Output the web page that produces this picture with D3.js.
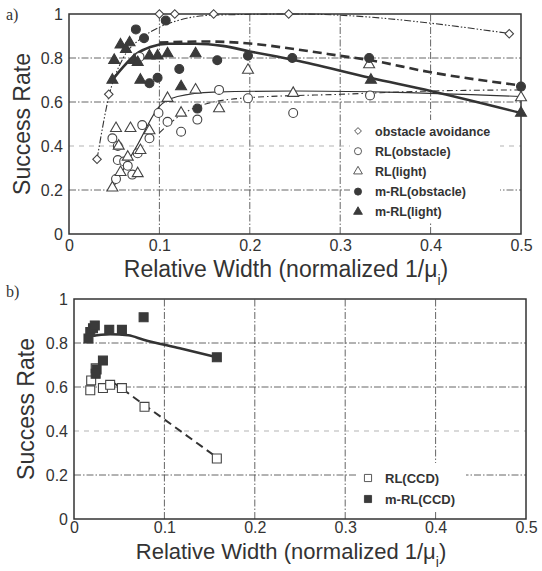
<!DOCTYPE html>
<html><head><meta charset="utf-8">
<script src="https://cdn.jsdelivr.net/npm/d3@7"></script>
<style>body{margin:0;background:#fff}svg{display:block}</style>
</head><body>
<svg id="c" width="542" height="571"></svg>
<script>
// ---------- data (panel a) ----------
const xTicks = [0, 0.1, 0.2, 0.3, 0.4, 0.5];
const yTicks = [0, 0.2, 0.4, 0.6, 0.8, 1];
const obstacleAvoidance = [[0.031,0.34],[0.044,0.635],[0.1,1.0],[0.117,1.0],[0.16,1.0],[0.243,1.0],[0.487,0.91]];
const rlObstacle = [[0.048,0.435],[0.054,0.40],[0.054,0.336],[0.061,0.33],[0.065,0.31],[0.07,0.27],[0.052,0.25],[0.076,0.367],[0.081,0.495],[0.089,0.435],[0.099,0.55],[0.109,0.51],[0.124,0.465],[0.142,0.52],[0.166,0.655],[0.198,0.617],[0.248,0.55],[0.333,0.63],[0.078,0.805]];
const rlLight = [[0.048,0.21],[0.052,0.48],[0.068,0.48],[0.089,0.47],[0.055,0.40],[0.079,0.38],[0.057,0.28],[0.076,0.275],[0.065,0.35],[0.109,0.617],[0.124,0.55],[0.14,0.655],[0.166,0.57],[0.198,0.745],[0.248,0.64],[0.332,0.77],[0.5,0.62]];
const mrlObstacle = [[0.074,0.93],[0.083,0.89],[0.107,0.97],[0.098,0.71],[0.089,0.685],[0.122,0.75],[0.142,0.57],[0.164,0.79],[0.198,0.81],[0.247,0.80],[0.332,0.80],[0.5,0.67]];
const mrlLight = [[0.048,0.70],[0.05,0.79],[0.057,0.86],[0.063,0.84],[0.067,0.87],[0.072,0.79],[0.076,0.78],[0.079,0.70],[0.089,0.81],[0.098,0.81],[0.109,0.82],[0.14,0.82],[0.124,0.67],[0.334,0.70],[0.5,0.55]];
const fitAvoid = [[0.031,0.34],[0.045,0.64],[0.06,0.80],[0.08,0.89],[0.1,0.94],[0.12,0.97],[0.16,0.995],[0.25,1.0],[0.49,0.91]];
const fitRlObstacle = [[0.1,0.46],[0.12,0.53],[0.15,0.59],[0.2,0.62],[0.3,0.635],[0.4,0.65],[0.5,0.655]];
const fitRlLight = [[0.05,0.22],[0.075,0.40],[0.1,0.58],[0.12,0.625],[0.16,0.645],[0.25,0.65],[0.35,0.645],[0.5,0.625]];
const fitMrlObstacle = [[0.1,0.87],[0.15,0.875],[0.2,0.866],[0.25,0.84],[0.3,0.81],[0.333,0.79],[0.4,0.735],[0.5,0.675]];
const fitMrlLight = [[0.048,0.70],[0.06,0.76],[0.075,0.82],[0.09,0.85],[0.11,0.865],[0.14,0.865],[0.17,0.855],[0.2,0.83],[0.25,0.79],[0.333,0.71],[0.4,0.65],[0.5,0.55]];
const legendA = ["obstacle avoidance","RL(obstacle)","RL(light)","m-RL(obstacle)","m-RL(light)"];
// ---------- data (panel b) ----------
const rlCCD = [[0.018,0.585],[0.019,0.63],[0.024,0.685],[0.032,0.595],[0.04,0.61],[0.053,0.595],[0.078,0.51],[0.158,0.275]];
const mrlCCD = [[0.016,0.82],[0.018,0.85],[0.021,0.867],[0.023,0.88],[0.039,0.86],[0.053,0.86],[0.077,0.917],[0.158,0.735],[0.032,0.72],[0.025,0.68],[0.024,0.66]];
const fitMrlCCD = [[0.016,0.83],[0.04,0.84],[0.06,0.835],[0.077,0.815],[0.117,0.776],[0.158,0.735]];
const fitRlCCD = [[0.042,0.625],[0.158,0.28]];
const legendB = ["RL(CCD)","m-RL(CCD)"];

const INK = "#333";
const svg = d3.select("#c");
const fmt = d => (d === 0 || d === 1) ? String(d) : d.toFixed(1);

function panel(o) {
  const x = d3.scaleLinear().domain([0, 0.5]).range([o.x0, o.x1]);
  const y = d3.scaleLinear().domain([0, 1]).range([o.y1, o.y0]);
  const g = svg.append("g");
  const gridStyle = s => s.attr("stroke", "#555").attr("stroke-width", 0.9).attr("stroke-dasharray", "7,2,1.5,2");
  g.selectAll(".vg").data(xTicks.slice(1, -1)).join("line")
    .attr("x1", d => x(d)).attr("x2", d => x(d)).attr("y1", y(0)).attr("y2", y(1)).call(gridStyle);
  g.selectAll(".hg").data(yTicks.slice(1, -1)).join("line")
    .attr("y1", d => y(d)).attr("y2", d => y(d)).attr("x1", x(0)).attr("x2", x(0.5)).call(gridStyle)
    .attr("stroke", d => d === 0.4 ? "#aaa" : "#555")
    .attr("stroke-dasharray", d => d === 0.4 ? "5,5" : "7,2,1.5,2");
  g.append("rect").attr("x", o.leg.x).attr("y", o.leg.y).attr("width", o.leg.w).attr("height", o.leg.h).attr("fill", "#fff");
  g.append("rect").attr("x", x(0)).attr("y", y(1)).attr("width", x(0.5) - x(0)).attr("height", y(0) - y(1))
    .attr("fill", "none").attr("stroke", INK).attr("stroke-width", 1.5);
  const ax = g.append("g").attr("transform", `translate(0,${y(0)})`)
    .call(d3.axisBottom(x).tickValues(xTicks).tickFormat(fmt).tickSize(0).tickPadding(o.xPad));
  const ay = g.append("g").attr("transform", `translate(${x(0)},0)`)
    .call(d3.axisLeft(y).tickValues(yTicks).tickFormat(fmt).tickSize(0).tickPadding(6));
  [ax, ay].forEach(a => {
    a.select(".domain").remove();
    a.selectAll("text").attr("font-family", "Liberation Sans, Arial, sans-serif").attr("font-size", 16).attr("fill", INK);
  });
  g.append("text").attr("transform", `translate(${o.yTitleX},${(y(0) + y(1)) / 2}) rotate(-90)`)
    .attr("text-anchor", "middle").attr("font-family", "Liberation Sans, Arial, sans-serif").attr("font-size", 23).attr("fill", INK)
    .text("Success Rate");
  const t = g.append("text").attr("x", o.xTitleX).attr("y", o.xTitleY).attr("text-anchor", "middle")
    .attr("font-family", "Liberation Sans, Arial, sans-serif").attr("font-size", o.xTitleSize).attr("fill", INK);
  t.append("tspan").text("Relative Width (normalized 1/μ");
  t.append("tspan").attr("dy", 8).attr("font-size", 14).text("i");
  t.append("tspan").attr("dy", -8).text(")");
  svg.append("text").attr("x", 6).attr("y", o.tagY).attr("font-family", "Liberation Serif, serif").attr("font-size", 16).attr("fill", INK).text(o.tag);
  return {g, x, y};
}

function curve(p, data, style) {
  p.g.append("path").datum(data)
    .attr("d", d3.line().x(d => p.x(d[0])).y(d => p.y(d[1])).curve(d3.curveMonotoneX))
    .attr("fill", "none").attr("stroke", INK).attr("stroke-width", style.w).attr("stroke-dasharray", style.dash || null);
}

const sym = {
  diamond: d3.symbol().type(d3.symbolSquare).size(36),
  circle: d3.symbol().type(d3.symbolCircle).size(62),
  triangle: d3.symbol().type(d3.symbolTriangle).size(52),
  square: d3.symbol().type(d3.symbolSquare).size(80)
};
function marks(p, data, kind, filled) {
  p.g.selectAll(null).data(data).join("path")
    .attr("d", sym[kind]())
    .attr("transform", d => `translate(${p.x(d[0])},${p.y(d[1])})` + (kind === "diamond" ? " rotate(45)" : ""))
    .attr("fill", filled ? "#3a3a3a" : "#fff").attr("stroke", filled ? "#3a3a3a" : "#444").attr("stroke-width", 1.1);
}
function legend(p, items, x0, y0, step, size) {
  items.forEach((it, i) => {
    const yy = y0 + i * step;
    p.g.append("path").attr("d", sym[it.kind]())
      .attr("transform", `translate(${x0},${yy})` + (it.kind === "diamond" ? " rotate(45)" : "") + " scale(0.8)")
      .attr("fill", it.filled ? "#3a3a3a" : "#fff").attr("stroke", it.filled ? "#3a3a3a" : "#444").attr("stroke-width", 1.1);
    p.g.append("text").attr("x", x0 + 17).attr("y", yy + 4.5).attr("font-family", "Liberation Sans, Arial, sans-serif")
      .attr("font-weight", "bold").attr("font-size", size).attr("fill", INK).text(it.label);
  });
}

// ---------- panel a ----------
const pa = panel({x0: 69, x1: 521, y0: 14, y1: 234, yTitleX: 30, xTitleX: 286, xTitleY: 277, xTitleSize: 23, xPad: 6,
  tag: "a)", tagY: 20, leg: {x: 350, y: 120, w: 150, h: 103}});
curve(pa, fitAvoid, {w: 1.1, dash: "7,2,1.5,2,1.5,2"});
curve(pa, fitRlObstacle, {w: 1.1, dash: "6,3,1.5,3"});
curve(pa, fitRlLight, {w: 1.2});
curve(pa, fitMrlObstacle, {w: 2.6, dash: "9,5"});
curve(pa, fitMrlLight, {w: 2.6});
marks(pa, obstacleAvoidance, "diamond", false);
marks(pa, rlObstacle, "circle", false);
marks(pa, rlLight, "triangle", false);
marks(pa, mrlObstacle, "circle", true);
marks(pa, mrlLight, "triangle", true);
legend(pa, [
  {kind: "diamond", filled: false, label: legendA[0]},
  {kind: "circle", filled: false, label: legendA[1]},
  {kind: "triangle", filled: false, label: legendA[2]},
  {kind: "circle", filled: true, label: legendA[3]},
  {kind: "triangle", filled: true, label: legendA[4]}
], 358, 131, 20.2, 12.5);

// ---------- panel b ----------
const pb = panel({x0: 74, x1: 526, y0: 299, y1: 519, yTitleX: 34, xTitleX: 291, xTitleY: 559, xTitleSize: 22, xPad: 3,
  tag: "b)", tagY: 297, leg: {x: 356, y: 463, w: 110, h: 49}});
curve(pb, fitMrlCCD, {w: 2.6});
curve(pb, fitRlCCD, {w: 2, dash: "8,5"});
marks(pb, rlCCD, "square", false);
marks(pb, mrlCCD, "square", true);
legend(pb, [
  {kind: "square", filled: false, label: legendB[0]},
  {kind: "square", filled: true, label: legendB[1]}
], 368, 478, 21, 13);
</script>
</body></html>
